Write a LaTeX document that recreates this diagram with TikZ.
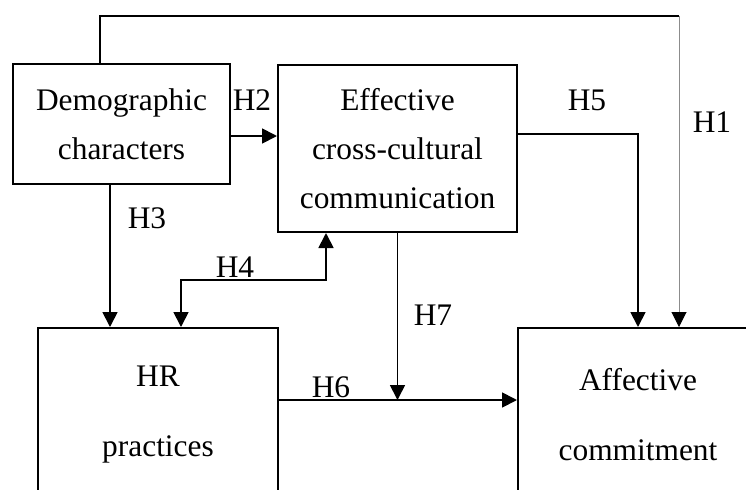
\documentclass[tikz,border=0pt]{standalone}
\usepackage{fontspec}
\setmainfont{Liberation Serif}
\usepackage{tikz}
\usetikzlibrary{arrows.meta,positioning}
\tikzset{
  >={Triangle[length=7.5pt,width=7.5pt]},
  every node/.style={font=\fontsize{15.7}{24.5}\selectfont},
  varbox/.style={draw,line width=1pt,align=center,inner sep=2pt},
  hyp/.style={->,line width=0.9pt},
  hyplbl/.style={inner sep=0pt},
}
\begin{document}
\begin{tikzpicture}[x=0.5pt,y=-0.5pt]
  \path[use as bounding box,clip] (0,0) rectangle (746,489);
  % boxes
  \node[varbox,minimum width=108.5pt,minimum height=60pt] (demo) at (121.5,124)
    {Demographic\\characters};
  \node[varbox,minimum width=119.5pt,minimum height=83.5pt] (effect) at (397.5,148.5)
    {Effective\\cross-cultural\\communication};
  \node[varbox,minimum width=120pt,minimum height=87pt] (hr) at (158,415)
    {HR\\[10.5pt]practices};
  \node[varbox,minimum width=120pt,minimum height=87pt] (affect) at (638,415)
    {Affective\\[10.5pt]commitment};
  % bends of the paths
  \coordinate (h1a) at (100,16);
  \coordinate (h1b) at (679,16);
  \coordinate (h4a) at (181,280);
  \coordinate (h4b) at (326,280);
  \coordinate (h3a) at ([xshift=-5.75pt]demo.south);
  \coordinate (h6a) at ([yshift=7.5pt]hr.east);
  % H1
  \draw[line width=0.9pt] (demo.north -| h1a) -- (h1a) -- (h1b);
  \draw[-{Triangle[length=7.5pt,width=7.5pt,color=black]},line width=0.5pt,black!45]
    (h1b) -- (h1b |- affect.north);
  % H2 .. H7
  \draw[hyp] ([yshift=-6pt]demo.east) -- ([yshift=-6pt]demo.east -| effect.west);
  \draw[hyp] (h3a) -- (h3a |- hr.north);
  \draw[hyp,<->] (h4a |- hr.north) -- (h4a) -- (h4b) -- (h4b |- effect.south);
  \draw[hyp] ([yshift=7.25pt]effect.east) -| (affect.north);
  \draw[hyp] (h6a) -- (h6a -| affect.west);
  \draw[hyp] (effect.south) -- (effect.south |- h6a);
  % labels
  \node[hyplbl] (lh1) at (712,122) {H1};
  \node[hyplbl] (lh2) at (252,100) {H2};
  \node[hyplbl] (lh3) at (147,218) {H3};
  \node[hyplbl] (lh4) at (235,267) {H4};
  \node[hyplbl] (lh5) at (587,100) {H5};
  \node[hyplbl] (lh6) at (331,387) {H6};
  \node[hyplbl] (lh7) at (433,315) {H7};
\end{tikzpicture}
\end{document}
